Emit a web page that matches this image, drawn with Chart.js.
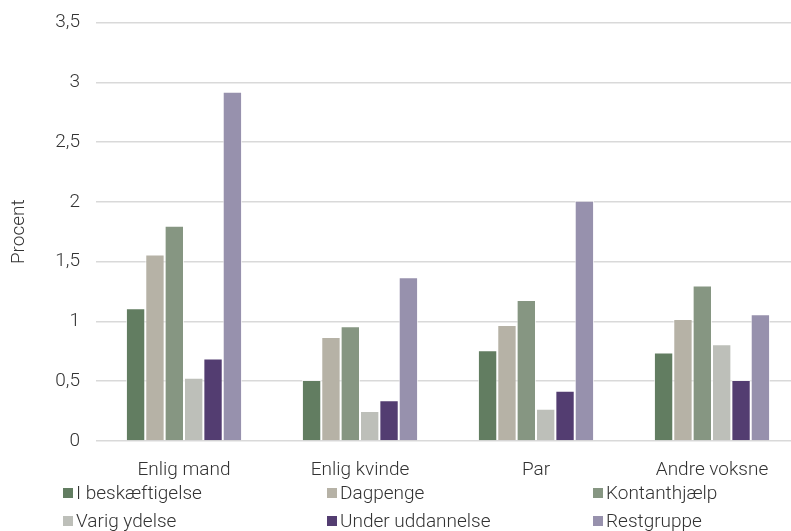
<!DOCTYPE html>
<html>
<head>
<meta charset="utf-8">
<script src="https://cdn.jsdelivr.net/npm/chart.js@4"></script>
<style>
    html, body { margin: 0; padding: 0; background: #fff; overflow: hidden; }
    #wrap { width: 800px; height: 531px; }
</style>
</head>
<body>
<div id="wrap"><canvas id="chart"></canvas></div>
<script>
    // Categories and series values (Procent).
    var categories = ['Enlig mand', 'Enlig kvinde', 'Par', 'Andre voksne'];
    var seriesNames = ['I beskæftigelse', 'Dagpenge', 'Kontanthjælp', 'Varig ydelse', 'Under uddannelse', 'Restgruppe'];
    var iBeskaeftigelse = [1.11, 0.51, 0.76, 0.74];
    var dagpenge = [1.56, 0.87, 0.97, 1.02];
    var kontanthjaelp = [1.80, 0.96, 1.18, 1.30];
    var varigYdelse = [0.53, 0.25, 0.27, 0.81];
    var underUddannelse = [0.69, 0.34, 0.42, 0.51];
    var restgruppe = [2.92, 1.37, 2.01, 1.06];
    var yTicks = [0, 0.5, 1, 1.5, 2, 2.5, 3, 3.5];

    var seriesValues = [iBeskaeftigelse, dagpenge, kontanthjaelp, varigYdelse, underUddannelse, restgruppe];
    var seriesColors = ['#627d61', '#b6b2a6', '#869682', '#bdbfb9', '#533d71', '#9791ad'];

    var fontFamily = 'Roboto, "Liberation Sans", sans-serif';
    var fontSize = 19;
    var textColor = '#333333';

    // Legend drawn as a three column grid under the x axis.
    var gridLegend = {
        id: 'gridLegend',
        afterDraw: function (chart) {
            var ctx = chart.ctx;
            var columns = [63, 327, 593];
            var rows = [493, 521];
            ctx.save();
            ctx.font = '300 ' + fontSize + 'px ' + fontFamily;
            ctx.textBaseline = 'middle';
            ctx.textAlign = 'left';
            chart.data.datasets.forEach(function (ds, i) {
                var x = columns[i % 3];
                var y = rows[Math.floor(i / 3)];
                ctx.fillStyle = ds.backgroundColor;
                ctx.fillRect(x, y - 5, 10, 10);
                ctx.fillStyle = textColor;
                ctx.fillText(ds.label, x + 13, y + 1);
            });
            ctx.restore();
        }
    };

    var tickFont = {family: fontFamily, size: fontSize, weight: 300};

    new Chart(document.getElementById('chart'), {
        type: 'bar',
        data: {
            labels: categories,
            datasets: seriesNames.map(function (name, i) {
                return {
                    label: name,
                    data: seriesValues[i],
                    backgroundColor: seriesColors[i],
                    borderColor: 'rgba(255,255,255,0.7)',
                    borderWidth: 1,
                    borderSkipped: 'bottom',
                    categoryPercentage: 0.66,
                    barPercentage: 1
                };
            })
        },
        options: {
            responsive: true,
            maintainAspectRatio: false,
            animation: false,
            layout: {
                padding: {top: 22.5, right: 0, bottom: 0, left: 0}
            },
            plugins: {
                legend: {display: false},
                tooltip: {enabled: false}
            },
            scales: {
                x: {
                    grid: {display: false},
                    border: {display: false},
                    ticks: {
                        color: textColor,
                        font: tickFont,
                        padding: 10
                    },
                    afterFit: function (scale) {
                        scale.height = 90;
                    }
                },
                y: {
                    min: 0,
                    max: 3.5,
                    afterBuildTicks: function (scale) {
                        scale.ticks = yTicks.map(function (v) {
                            return {value: v};
                        });
                    },
                    grid: {
                        color: '#d9d9d9',
                        lineWidth: 1.5,
                        drawTicks: false
                    },
                    border: {display: false},
                    ticks: {
                        color: textColor,
                        font: tickFont,
                        padding: 16,
                        callback: function (value) {
                            return String(value).replace('.', ',');
                        }
                    },
                    title: {
                        display: true,
                        text: 'Procent',
                        color: textColor,
                        font: tickFont,
                        padding: {top: 8, bottom: 0}
                    },
                    afterFit: function (scale) {
                        scale.width = 96;
                        scale.paddingTop = 0;
                        scale.paddingBottom = 0;
                    }
                }
            }
        },
        plugins: [gridLegend]
    });
</script>
</body>
</html>
